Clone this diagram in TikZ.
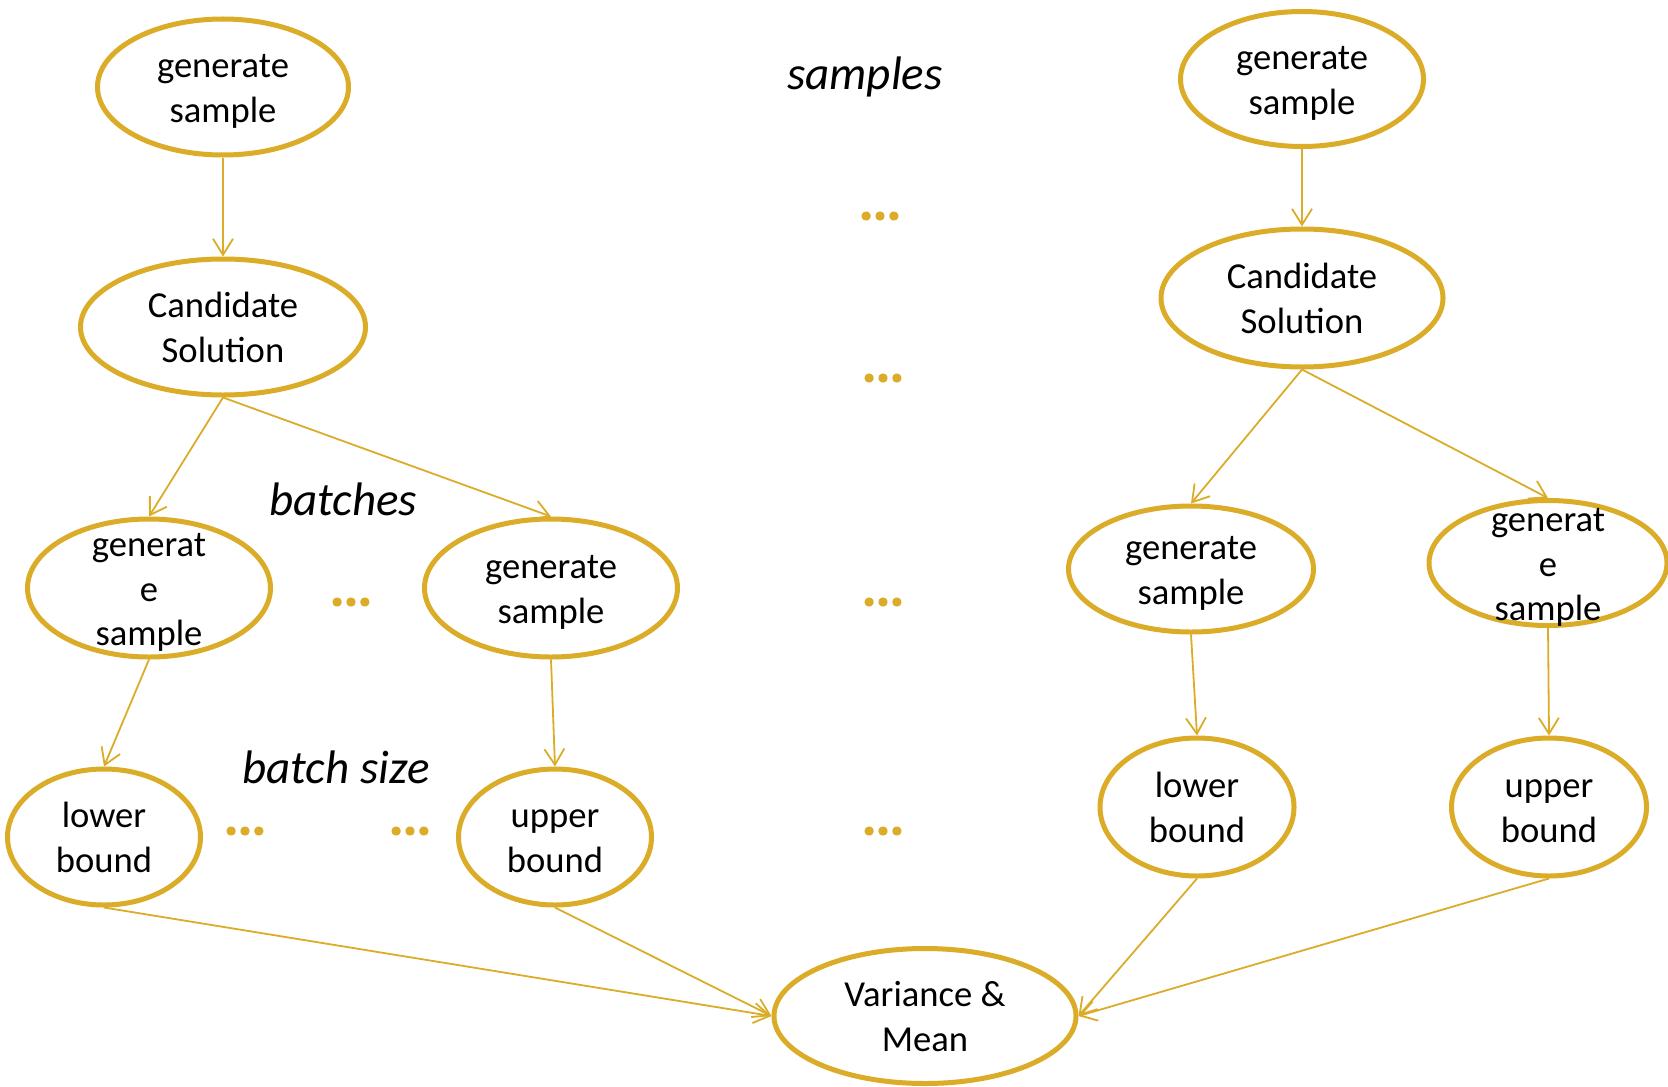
\documentclass[tikz,border=0pt]{standalone}
\usepackage{fontspec}
\setmainfont{Carlito}
\newfontfamily\dotfont[FakeBold=2.5]{Carlito Bold}
\usetikzlibrary{shapes.geometric,arrows.meta}
\definecolor{gold}{RGB}{218,172,40}
\newcommand{\fst}{\rule{0pt}{13pt}}
\tikzset{
  ell/.style={ellipse,draw=gold,line width=2.5pt,inner sep=0pt,fill=white},
  txt/.style={align=center,inner sep=0pt,font=\fontsize{18.3}{22.4}\selectfont,text=black},
  lab/.style={inner sep=0pt,font=\fontsize{23.5}{28}\selectfont\itshape,text=black},
  dots/.style={inner sep=0pt,font=\fontsize{26}{30}\dotfont,text=gold},
  arr/.style={draw=gold,line width=0.9pt,-{Straight Barb[length=8pt,width=10pt]}}
}
\begin{document}
\begin{tikzpicture}[x=0.5pt,y=-0.5pt]
\useasboundingbox (0,0) rectangle (1668,1086);
% ellipses
\node[ell,minimum width=125.5pt,minimum height=68pt] (g1) at (223,87) {};
\node[ell,minimum width=142.5pt,minimum height=68pt] (c1) at (223,327) {};
\node[ell,minimum width=121.5pt,minimum height=69pt] (g2) at (149,588) {};
\node[ell,minimum width=126.5pt,minimum height=69pt] (g3) at (551,588) {};
\node[ell,minimum width=96.5pt,minimum height=68pt] (lb1) at (104,837) {};
\node[ell,minimum width=96.5pt,minimum height=68pt] (ub1) at (555,837) {};
\node[ell,minimum width=151pt,minimum height=67.5pt] (vm) at (925,1016) {};
\node[ell,minimum width=121.5pt,minimum height=67.5pt] (g4) at (1302,79) {};
\node[ell,minimum width=141pt,minimum height=69pt] (c2) at (1302,298) {};
\node[ell,minimum width=122.5pt,minimum height=63pt] (g5) at (1191,569) {};
\node[ell,minimum width=119pt,minimum height=62.5pt] (g6) at (1548,563) {};
\node[ell,minimum width=97pt,minimum height=69pt] (lb2) at (1197,807) {};
\node[ell,minimum width=97.5pt,minimum height=69pt] (ub2) at (1549,807) {};
% texts
\node[txt] (g1t) at (g1) {\fst generate\\\smash{sample}};
\node[txt] (c1t) at (c1) {\fst Candidate\\Solution};
\node[txt] (g2t) at (g2) {\fst generat\\e\\\smash{sample}};
\node[txt] (g3t) at (g3) {\fst generate\\\smash{sample}};
\node[txt] (lb1t) at (lb1) {\fst lower\\bound};
\node[txt] (ub1t) at (ub1) {\fst upper\\bound};
\node[txt] (vmt) at (vm) {\fst Variance \&\\Mean};
\node[txt] (g4t) at (g4) {\fst generate\\\smash{sample}};
\node[txt] (c2t) at (c2) {\fst Candidate\\Solution};
\node[txt] (g5t) at (g5) {\fst generate\\\smash{sample}};
\node[txt] (g6t) at (g6) {\fst generat\\e\\\smash{sample}};
\node[txt] (lb2t) at (lb2) {\fst lower\\bound};
\node[txt] (ub2t) at (ub2) {\fst upper\\bound};
% labels
\node[lab] (samples) at (865,77) {samples};
\node[lab] (batches) at (343,499) {batches};
\node[lab] (bsize) at (336,767) {batch size};
% dots
\node[dots] (d1) at (880,216) {...};
\node[dots] (d2) at (883,378) {...};
\node[dots] (d3) at (351,602) {...};
\node[dots] (d4) at (883,602) {...};
\node[dots] (d5) at (245,831) {...};
\node[dots] (d6) at (410,831) {...};
\node[dots] (d7) at (883,831) {...};
% arrows
\draw[arr] (g1.south) -- (c1.north);
\draw[arr] (c1.south) -- (g2.north);
\draw[arr] (c1.south) -- (g3.north);
\draw[arr] (g2.south) -- (lb1.north);
\draw[arr] (g3.south) -- (ub1.north);
\draw[arr] (lb1.south) -- (vm.west);
\draw[arr] (ub1.south) -- (vm.west);
\draw[arr] (g4.south) -- (c2.north);
\draw[arr] (c2.south) -- (g5.north);
\draw[arr] (c2.south) -- (g6.north);
\draw[arr] (g5.south) -- (lb2.north);
\draw[arr] (g6.south) -- (ub2.north);
\draw[arr] (lb2.south) -- (vm.east);
\draw[arr] (ub2.south) -- (vm.east);
\end{tikzpicture}
\end{document}
